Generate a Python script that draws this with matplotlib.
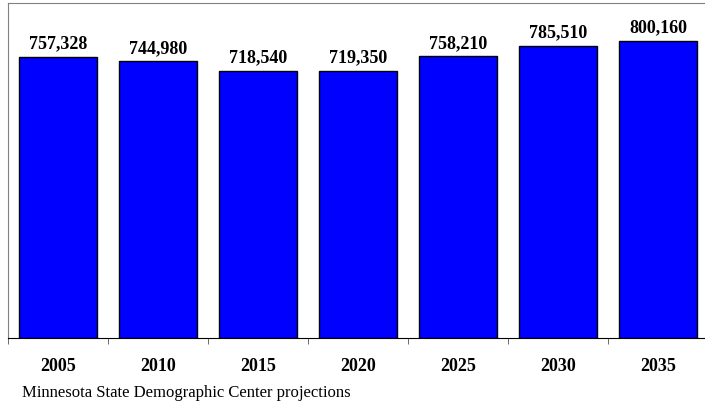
"""Minnesota population projection bar chart."""

import matplotlib.pyplot as plt
import numpy as np

YEARS = ["2005", "2010", "2015", "2020", "2025", "2030", "2035"]
POPULATION = [757328, 744980, 718540, 719350, 758210, 785510, 800160]
SOURCE = "Minnesota State Demographic Center projections"

plt.rcParams["font.family"] = ["Liberation Serif", "DejaVu Serif"]


def main() -> None:
    fig = plt.figure(figsize=(7.05, 4.06), dpi=100)
    ax = fig.add_axes([8 / 705, 67 / 406, 700 / 705, 335 / 406])
    x = np.arange(len(YEARS))
    bars = ax.bar(x, POPULATION, width=0.78, color="#0000ff", edgecolor="black", linewidth=1.0)
    ax.set_xlim(-0.5, len(YEARS) - 0.5)
    ax.set_ylim(0, 902000)

    for bar, value in zip(bars, POPULATION):
        ax.annotate(
            f"{value:,}",
            xy=(bar.get_x() + bar.get_width() / 2, value),
            xytext=(0, 4),
            textcoords="offset points",
            ha="center",
            va="bottom",
            fontsize=13,
            fontweight="bold",
        )

    ax.set_xticks(x, YEARS, fontsize=13, fontweight="bold")
    ax.tick_params(axis="x", which="major", length=0, pad=14)
    ax.set_xticks(np.arange(-0.5, len(YEARS) + 0.5, 1), minor=True)
    ax.tick_params(axis="x", which="minor", length=4, direction="out", color="#555555")
    ax.set_yticks([])

    for side in ("top", "left", "right"):
        ax.spines[side].set_color("#808080")
    ax.spines["bottom"].set_color("black")

    fig.text(22 / 705, 1 - 393 / 406, SOURCE, fontsize=12, ha="left", va="center")
    fig.savefig("out.png", dpi=100)
    plt.close(fig)


if __name__ == "__main__":
    main()
